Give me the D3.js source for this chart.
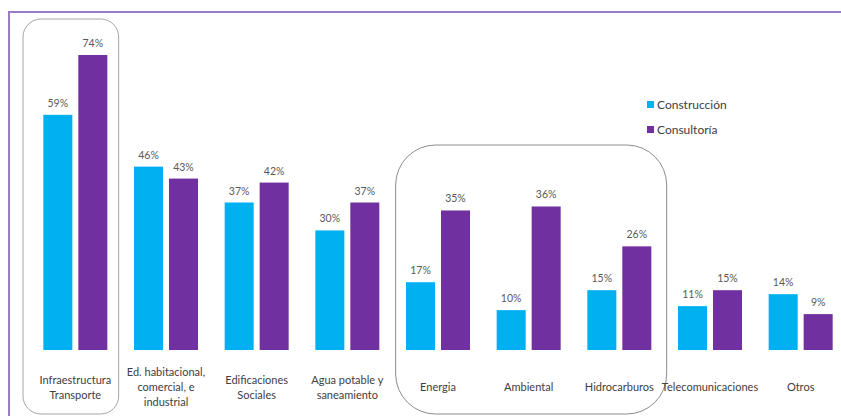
<!DOCTYPE html>
<html>
<head>
<meta charset="utf-8">
<script src="https://cdn.jsdelivr.net/npm/d3@7"></script>
<style>
  body { margin: 0; background: #fff; }
  svg { display: block; font-family: Lato, "Open Sans", sans-serif; }
</style>
</head>
<body>
<svg id="chart" width="841" height="416"></svg>
<script>
var categories = [
  ["Infraestructura", "Transporte"],
  ["Ed. habitacional,", "comercial, e", "industrial"],
  ["Edificaciones", "Sociales"],
  ["Agua potable y", "saneamiento"],
  ["Energia"],
  ["Ambiental"],
  ["Hidrocarburos"],
  ["Telecomunicaciones"],
  ["Otros"]
];
var series = ["Construcción", "Consultoría"];
var construccion = [59, 46, 37, 30, 17, 10, 15, 11, 14];
var consultoria = [74, 43, 42, 37, 35, 36, 26, 15, 9];
var colors = ["#00b0f0", "#7030a0"];

var svg = d3.select("#chart"),
    width = +svg.attr("width"),
    height = +svg.attr("height"),
    baseline = 350;

var data = categories.map(function(c, i) {
  return { key: c.join(" "), lines: c, values: [construccion[i], consultoria[i]] };
});

var x0 = d3.scaleBand()
    .domain(data.map(function(d) { return d.key; }))
    .range([30, 846]);

var x1 = d3.scaleBand()
    .domain(series)
    .range([x0.bandwidth() / 2 - 32, x0.bandwidth() / 2 + 32])
    .paddingInner(0.171);

var y = d3.scaleLinear()
    .domain([0, 74])
    .range([baseline, 55]);

// marco morado
svg.append("path")
    .attr("d", "M9," + height + "V12H" + width)
    .attr("fill", "none")
    .attr("stroke", "#9a7cc4")
    .attr("stroke-width", 2);

// cajas redondeadas
var k = data.map(function(d) { return d.key; });
svg.append("rect")
    .attr("x", x0(k[0]) - 7)
    .attr("y", 19)
    .attr("width", x0.bandwidth() + 5)
    .attr("height", 395)
    .attr("rx", 18)
    .attr("fill", "none")
    .attr("stroke", "#a6a6a6");

svg.append("rect")
    .attr("x", x0(k[4]) + 3)
    .attr("y", 145)
    .attr("width", x0(k[6]) + x0.bandwidth() + 2 - x0(k[4]) - 3)
    .attr("height", 269)
    .attr("rx", 40)
    .attr("fill", "none")
    .attr("stroke", "#8c8c8c");

var group = svg.append("g")
  .selectAll("g")
  .data(data)
  .enter().append("g")
    .attr("transform", function(d) { return "translate(" + x0(d.key) + ",0)"; });

var bars = group.selectAll("g")
  .data(function(d) { return d.values.map(function(v, i) { return { s: series[i], v: v, i: i }; }); })
  .enter().append("g");

bars.append("rect")
    .attr("x", function(d) { return x1(d.s); })
    .attr("y", function(d) { return y(d.v); })
    .attr("width", x1.bandwidth())
    .attr("height", function(d) { return baseline - y(d.v); })
    .attr("fill", function(d) { return colors[d.i]; });

bars.append("text")
    .attr("x", function(d) { return x1(d.s) + x1.bandwidth() / 2; })
    .attr("y", function(d) { return y(d.v) - 8; })
    .attr("text-anchor", "middle")
    .attr("font-size", 10.5)
    .attr("fill", "#595959")
    .text(function(d) { return d.v + "%"; });

// etiquetas de categoria
group.append("text")
    .attr("text-anchor", "middle")
    .attr("font-size", 11)
    .attr("fill", "#404040")
    .each(function(d) {
      var t = d3.select(this), n = d.lines.length;
      d.lines.forEach(function(l, j) {
        t.append("tspan")
          .attr("x", x0.bandwidth() / 2)
          .attr("y", 391 + (j - (n - 1) / 2) * 15)
          .text(l);
      });
    });

// leyenda
var legend = svg.append("g")
  .selectAll("g")
  .data(series)
  .enter().append("g")
    .attr("transform", function(d, i) { return "translate(647," + (101 + i * 25) + ")"; });

legend.append("rect")
    .attr("width", 7)
    .attr("height", 7)
    .attr("fill", function(d, i) { return colors[i]; });

legend.append("text")
    .attr("x", 10)
    .attr("y", 4)
    .attr("dy", "0.35em")
    .attr("font-size", 12)
    .attr("fill", "#404040")
    .text(function(d) { return d; });
</script>
</body>
</html>
